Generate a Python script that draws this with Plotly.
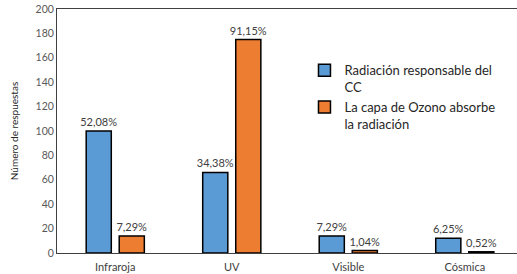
import plotly.graph_objects as go

categories = ["Infraroja", "UV", "Visible", "Cósmica"]
series1_name = "Radiación responsable del<br>CC"
series2_name = "La capa de Ozono absorbe<br>la radiación"
series1_values = [100, 66, 14, 12]
series2_values = [14, 175, 2, 1]
series1_labels = ["52,08%", "34,38%", "7,29%", "6,25%"]
series2_labels = ["7,29%", "91,15%", "1,04%", "0,52%"]
y_ticks = [0, 20, 40, 60, 80, 100, 120, 140, 160, 180, 200]

font_family = "Lato, 'Open Sans', sans-serif"

fig = go.Figure()
fig.add_trace(go.Bar(
    x=categories, y=series1_values, name=series1_name,
    text=series1_labels, textposition="outside", constraintext="none",
    textfont=dict(size=11, color="#404040"),
    marker=dict(color="#5B9BD5", line=dict(color="black", width=1.5)),
    cliponaxis=False,
))
fig.add_trace(go.Bar(
    x=categories, y=series2_values, name=series2_name,
    text=series2_labels, textposition="outside", constraintext="none",
    textfont=dict(size=11, color="#404040"),
    marker=dict(color="#ED7D31", line=dict(color="black", width=1.5)),
    cliponaxis=False,
))

fig.update_layout(
    width=517, height=274,
    margin=dict(l=57, r=0, t=9, b=21, autoexpand=False),
    paper_bgcolor="white", plot_bgcolor="white",
    font=dict(family=font_family, color="#404040"),
    barmode="group", bargap=0.433, bargroupgap=0.24,
    showlegend=True,
    legend=dict(
        x=0.538, y=0.81, xanchor="left", yanchor="top",
        font=dict(size=13, color="#262626"),
        valign="top", tracegroupgap=5, itemwidth=30,
        bgcolor="rgba(0,0,0,0)",
    ),
    xaxis=dict(
        range=[-0.5, 3.448], automargin=False,
        showline=True, linecolor="#404040", linewidth=1, mirror=True,
        ticks="", tickfont=dict(size=11, color="#404040"),
        ticklabelstandoff=4,
        showgrid=False,
    ),
    yaxis=dict(
        range=[0, 200], tickvals=y_ticks, automargin=False,
        showline=True, linecolor="#404040", linewidth=1,
        ticks="", tickfont=dict(size=10.5, color="#595959"),
        showgrid=False, zeroline=False,
        title=dict(text="Número de respuestas", font=dict(size=10, color="#262626")),
    ),
)

fig.write_html("out.html", config={"displayModeBar": False},
               post_script="document.body.style.margin='0';")
